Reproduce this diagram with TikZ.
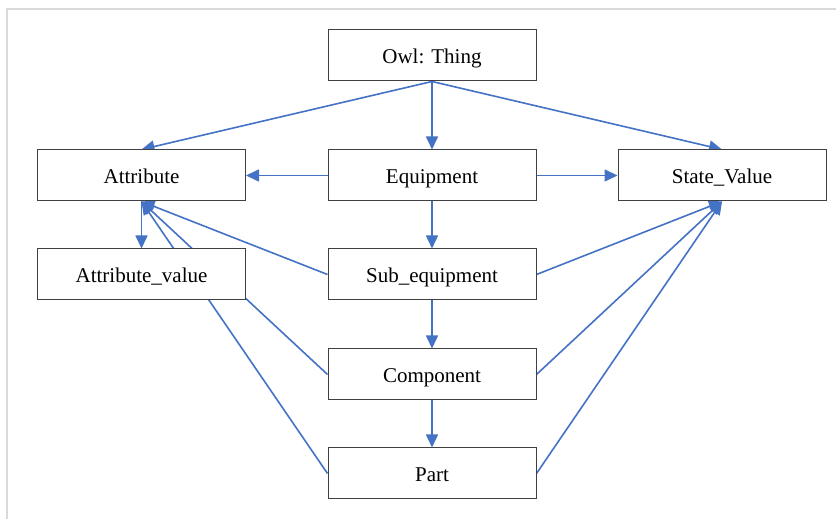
\documentclass[tikz,border=0pt]{standalone}
\usepackage{fontspec}
\setmainfont{Liberation Serif}
\usetikzlibrary{arrows.meta,backgrounds}

\definecolor{linkblue}{HTML}{4472C4}
\definecolor{boxgray}{HTML}{404040}
\definecolor{framegray}{HTML}{D9D9D9}

\tikzset{
  cls/.style={draw=boxgray, fill=white, line width=1pt, minimum width=208pt,
    minimum height=51pt, inner sep=0pt, text height=16pt, text depth=0pt,
    font=\fontsize{21}{25}\selectfont},
  isa/.style={draw=linkblue, line width=1.6pt, -{Triangle[length=13pt,width=12pt]}}
}

\begin{document}
\begin{tikzpicture}[x=1pt,y=1pt]
        \useasboundingbox (0,0) rectangle (836,519);
        \draw[framegray, line width=1.5pt] (7,0) -- (7,510) -- (836,510);

        % class boxes
        \node[cls] (owl)     at (432,463.5) {Owl: Thing};
        \node[cls] (attr)    at (141.5,343.5) {Attribute};
        \node[cls] (equip)   at (432,343.5) {Equipment};
        \node[cls] (state)   at (722,343.5) {State\_Value};
        \node[cls] (attrval) at (141.5,244.5) {Attribute\_value};
        \node[cls] (subeq)   at (432,244.5) {Sub\_equipment};
        \node[cls] (comp)    at (432,144.5) {Component};
        \node[cls] (part)    at (432,45.5) {Part};

        % links, kept behind the boxes
        \begin{scope}[on background layer]
        \draw[isa] (owl.south) -- (attr.north);
        \draw[isa] (owl.south) -- (equip.north);
        \draw[isa] (owl.south) -- (state.north);
        \draw[isa] (equip.west) -- (attr.east);
        \draw[isa] (equip.east) -- (state.west);
        \draw[isa] (equip.south) -- (subeq.north);
        \draw[isa] (subeq.south) -- (comp.north);
        \draw[isa] (comp.south) -- (part.north);
        \draw[isa] (attr.south) -- (attrval.north);
        \draw[isa] (subeq.west) -- (attr.south);
        \draw[isa] (comp.west) -- (attr.south);
        \draw[isa] (part.west) -- (attr.south);
        \draw[isa] (subeq.east) -- (state.south);
        \draw[isa] (comp.east) -- (state.south);
        \draw[isa] (part.east) -- (state.south);
        \end{scope}
    \end{tikzpicture}
\end{document}
